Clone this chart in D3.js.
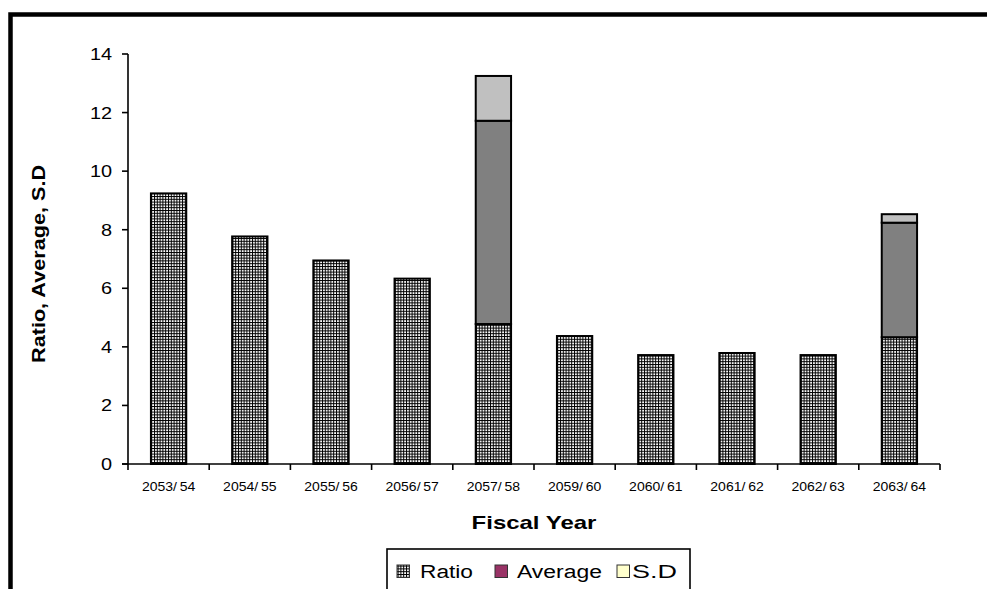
<!DOCTYPE html>
<html>
<head>
<meta charset="utf-8">
<script src="https://cdn.jsdelivr.net/npm/d3@7/dist/d3.min.js"></script>
<style>
  html, body { margin: 0; padding: 0; background: #fff; }
  svg { display: block; }
  text { font-family: "Liberation Sans", Arial, sans-serif; fill: #000; }
</style>
</head>
<body>
<svg id="chart" width="987" height="589"></svg>
<script>
// Fiscal years on the category axis
const categories = ["2053/54", "2054/55", "2055/56", "2056/57", "2057/58",
                    "2059/60", "2060/61", "2061/62", "2062/63", "2063/64"];
// Stacked series
const ratio   = [9.24, 7.77, 6.95, 6.33, 4.78, 4.37, 3.72, 3.79, 3.72, 4.33];
const average = [0, 0, 0, 0, 6.94, 0, 0, 0, 0, 3.91];
const sd      = [0, 0, 0, 0, 1.53, 0, 0, 0, 0, 0.29];
const seriesNames = ["Ratio", "Average", "S.D"];
const yTicks = [0, 2, 4, 6, 8, 10, 12, 14];

const svg = d3.select("#chart");
const W = 987, H = 589;
const plot = { left: 128, right: 940, top: 54, bottom: 464 };

// Fill pattern for the Ratio series: dark grid with small light cells
const defs = svg.append("defs");
const pat = defs.append("pattern")
  .attr("id", "grid").attr("patternUnits", "userSpaceOnUse")
  .attr("width", 2.8).attr("height", 2.8);
pat.append("rect").attr("width", 2.8).attr("height", 2.8).attr("fill", "#000");
pat.append("rect").attr("x", 1.0).attr("y", 1.0).attr("width", 1.8).attr("height", 1.8).attr("fill", "#fff");

// Horizontally widened text helper
function label(g, str, x, y, opts = {}) {
  return g.append("text")
    .attr("transform", `translate(${x},${y}) scale(${opts.sx || 1.17},1)`)
    .attr("text-anchor", opts.anchor || "middle")
    .style("font-size", (opts.size || 14) + "px")
    .style("font-weight", opts.bold ? "bold" : "normal")
    .text(str);
}

// Outer chart border (top and left edges visible)
svg.append("rect")
  .attr("x", 10.5).attr("y", 14.5)
  .attr("width", W + 20).attr("height", H + 20)
  .attr("fill", "none").attr("stroke", "#000").attr("stroke-width", 4.5);

const x = d3.scaleBand()
  .domain(categories)
  .range([plot.left, plot.right])
  .paddingInner(0.565)
  .paddingOuter(0.2825);

const y = d3.scaleLinear().domain([0, 14]).range([plot.bottom, plot.top]);

// Stack the series
const rows = categories.map((c, i) => ({ cat: c, Ratio: ratio[i], Average: average[i], "S.D": sd[i] }));
const stacked = d3.stack().keys(seriesNames)(rows);
const barFill = { "Ratio": "url(#grid)", "Average": "#808080", "S.D": "#c0c0c0" };

const bars = svg.append("g");
stacked.forEach(layer => {
  bars.append("g").selectAll("rect")
    .data(layer.filter(d => d[1] - d[0] > 0))
    .join("rect")
    .attr("x", d => x(d.data.cat))
    .attr("width", x.bandwidth())
    .attr("y", d => y(d[1]))
    .attr("height", d => y(d[0]) - y(d[1]))
    .attr("fill", barFill[layer.key])
    .attr("stroke", "#000")
    .attr("stroke-width", 2);
});

// Y axis
const yAxis = svg.append("g");
yAxis.append("line")
  .attr("x1", plot.left).attr("x2", plot.left)
  .attr("y1", plot.top).attr("y2", plot.bottom)
  .attr("stroke", "#000").attr("stroke-width", 1.6);
yTicks.forEach(v => {
  yAxis.append("line")
    .attr("x1", plot.left - 6).attr("x2", plot.left)
    .attr("y1", y(v)).attr("y2", y(v))
    .attr("stroke", "#000").attr("stroke-width", 1.6);
  label(yAxis, String(v), plot.left - 16, y(v) + 6, { anchor: "end", size: 17 });
});

// X axis
const xAxis = svg.append("g");
xAxis.append("line")
  .attr("x1", plot.left - 6).attr("x2", plot.right)
  .attr("y1", plot.bottom).attr("y2", plot.bottom)
  .attr("stroke", "#000").attr("stroke-width", 1.6);
const step = x.step();
d3.range(categories.length + 1).forEach(i => {
  const px = plot.left + i * step;
  xAxis.append("line")
    .attr("x1", px).attr("x2", px)
    .attr("y1", plot.bottom).attr("y2", plot.bottom + 6)
    .attr("stroke", "#000").attr("stroke-width", 1.6);
});
categories.forEach(c => {
  label(xAxis, c.replace("/", "/\u2009"), x(c) + x.bandwidth() / 2, 491, { size: 12.5, sx: 1.12 });
});

// Axis titles
label(svg, "Fiscal Year", 534, 529, { size: 17.5, bold: true, sx: 1.37 });
svg.append("text")
  .attr("transform", `translate(45,264) rotate(-90)`)
  .attr("text-anchor", "middle")
  .style("font-size", "18px").style("font-weight", "bold")
  .attr("textLength", 198).attr("lengthAdjust", "spacingAndGlyphs")
  .text("Ratio, Average, S.D");

// Legend
const lg = svg.append("g");
lg.append("rect")
  .attr("x", 387).attr("y", 549).attr("width", 303).attr("height", 60)
  .attr("fill", "#fff").attr("stroke", "#000").attr("stroke-width", 1.6);
const legendFill = { "Ratio": "url(#grid)", "Average": "#993366", "S.D": "#ffffcc" };
const legendPos = [
  { key: "Ratio", sw: 397, tx: 420, len: 53 },
  { key: "Average", sw: 495, tx: 517, len: 85 },
  { key: "S.D", sw: 617, tx: 632, len: 45 }
];
legendPos.forEach(p => {
  lg.append("rect")
    .attr("x", p.sw).attr("y", 565).attr("width", 12.5).attr("height", 12.5)
    .attr("fill", legendFill[p.key]).attr("stroke", "#333").attr("stroke-width", 1);
  const t = label(lg, p.key, p.tx, 578, { anchor: "start", size: 19, sx: 1 });
  // widen each label to its legend slot
  const w = t.node().getComputedTextLength();
  t.attr("transform", `translate(${p.tx},578) scale(${p.len / w},1)`);
});
</script>
</body>
</html>
